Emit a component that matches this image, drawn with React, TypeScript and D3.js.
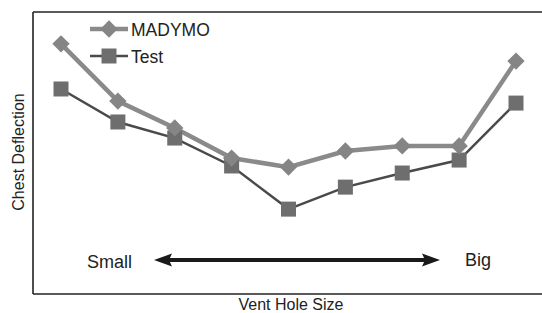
import React, { useEffect, useRef } from "react";
import * as d3 from "d3";

// vent hole sizes, small -> big
const ventSizes = [1, 2, 3, 4, 5, 6, 7, 8, 9];
const madymo = [88.7, 68.4, 58.9, 48.2, 45.0, 50.7, 52.5, 52.5, 82.6];
const test = [72.7, 61.0, 55.3, 45.4, 30.1, 37.9, 42.9, 47.5, 67.7];

const W = 542;
const H = 313;
const margin = { top: 12, right: 0, bottom: 19, left: 33 };

const App: React.FC = () => {
  const ref = useRef<SVGSVGElement>(null);

  useEffect(() => {
    if (ref.current === null) return;
    const svg = d3.select(ref.current);
    svg.selectAll("*").remove();

    const x = d3.scaleLinear().domain([1, 9]).range([61, 516]);
    const y = d3
      .scaleLinear()
      .domain([0, 100])
      .range([H - margin.bottom, margin.top]);

    // frame: top, left, bottom
    const frame = svg.append("g").attr("stroke", "#222").attr("stroke-width", 1.6);
    frame.append("line").attr("x1", margin.left).attr("x2", W).attr("y1", y(100)).attr("y2", y(100));
    frame.append("line").attr("x1", margin.left).attr("x2", margin.left).attr("y1", y(100)).attr("y2", y(0));
    frame.append("line").attr("x1", margin.left).attr("x2", W).attr("y1", y(0)).attr("y2", y(0));

    const line = d3
      .line<number>()
      .x((_, i) => x(ventSizes[i]))
      .y(d => y(d));

    // Test series (dark thin line, squares)
    svg
      .append("path")
      .datum(test)
      .attr("fill", "none")
      .attr("stroke", "#4a4a4a")
      .attr("stroke-width", 2.5)
      .attr("d", line);

    // MADYMO series (light thick line, diamonds)
    svg
      .append("path")
      .datum(madymo)
      .attr("fill", "none")
      .attr("stroke", "#8a8a8a")
      .attr("stroke-width", 4.5)
      .attr("d", line);

    const sq = 15;
    svg
      .selectAll("rect.test")
      .data(test)
      .enter()
      .append("rect")
      .attr("class", "test")
      .attr("x", (_, i) => x(ventSizes[i]) - sq / 2)
      .attr("y", d => y(d) - sq / 2)
      .attr("width", sq)
      .attr("height", sq)
      .attr("fill", "#6e6e6e");

    const diamond = d3.symbol().type(d3.symbolSquare).size(150);
    svg
      .selectAll("path.madymo")
      .data(madymo)
      .enter()
      .append("path")
      .attr("class", "madymo")
      .attr("d", diamond)
      .attr("transform", (d, i) => `translate(${x(ventSizes[i])},${y(d)}) rotate(45)`)
      .attr("fill", "#858585");

    // legend
    const lg = svg.append("g");
    lg.append("line").attr("x1", 90).attr("x2", 128).attr("y1", 29).attr("y2", 29)
      .attr("stroke", "#8a8a8a").attr("stroke-width", 4.5);
    lg.append("path").attr("d", diamond).attr("transform", "translate(109,29) rotate(45)").attr("fill", "#858585");
    lg.append("text").attr("x", 131).attr("y", 36).text("MADYMO");
    lg.append("line").attr("x1", 90).attr("x2", 128).attr("y1", 56).attr("y2", 56)
      .attr("stroke", "#4a4a4a").attr("stroke-width", 2.5);
    lg.append("rect").attr("x", 109 - sq / 2).attr("y", 56 - sq / 2).attr("width", sq).attr("height", sq).attr("fill", "#6e6e6e");
    lg.append("text").attr("x", 131).attr("y", 63).text("Test");
    lg.selectAll("text").attr("font-size", 17.5).attr("fill", "#222");

    // size arrow
    const ay = 260;
    svg.append("line").attr("x1", 168).attr("x2", 426).attr("y1", ay).attr("y2", ay)
      .attr("stroke", "#1a1a1a").attr("stroke-width", 4);
    svg.append("path").attr("d", `M154,${ay} L172,${ay - 6.5} L169,${ay} L172,${ay + 6.5} Z`).attr("fill", "#1a1a1a");
    svg.append("path").attr("d", `M440,${ay} L422,${ay - 6.5} L425,${ay} L422,${ay + 6.5} Z`).attr("fill", "#1a1a1a");
    svg.append("text").attr("x", 87).attr("y", 268).attr("font-size", 18).attr("fill", "#222").text("Small");
    svg.append("text").attr("x", 465).attr("y", 266).attr("font-size", 18).attr("fill", "#222").text("Big");

    // axis titles
    svg.append("text").attr("x", 291).attr("y", 310).attr("text-anchor", "middle")
      .attr("font-size", 16).attr("fill", "#222").text("Vent Hole Size");
    svg.append("text").attr("transform", "translate(24,152) rotate(-90)").attr("text-anchor", "middle")
      .attr("font-size", 16).attr("fill", "#222").text("Chest Deflection");
  }, []);

  return (
    <svg
      ref={ref}
      width={W}
      height={H}
      style={{ position: "absolute", left: 0, top: 0, background: "#fff" }}
      fontFamily="'Liberation Sans', Arial, sans-serif"
    />
  );
};

export default App;
